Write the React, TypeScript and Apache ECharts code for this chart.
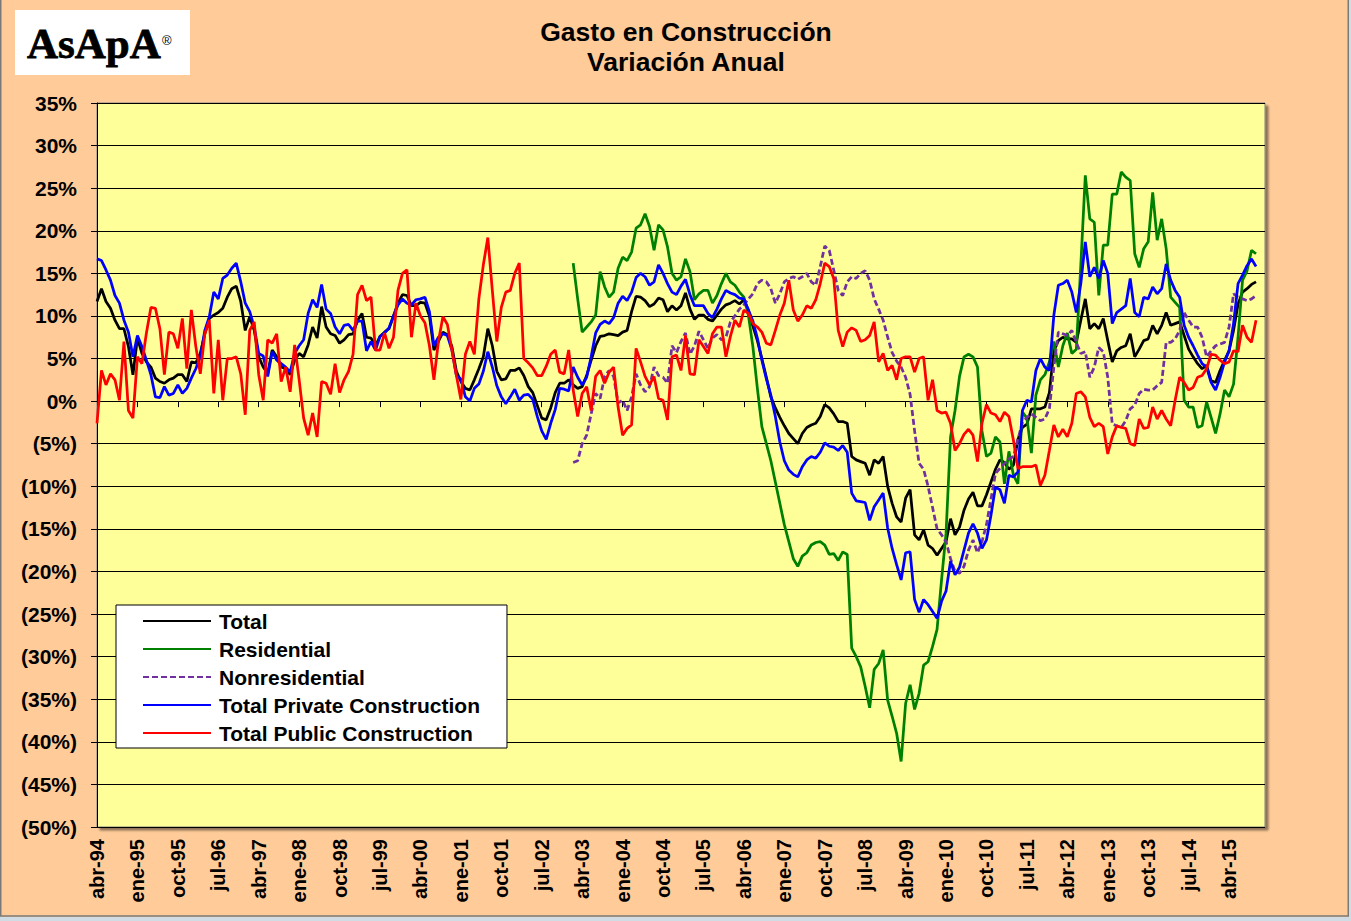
import React, { useEffect, useRef } from "react";
import * as echarts from "echarts";

const FONT = '"Liberation Sans", Arial, Helvetica, sans-serif';

// Category labels: monthly, starting abr-94
const MONTHS = ["ene", "feb", "mar", "abr", "may", "jun", "jul", "ago", "sep", "oct", "nov", "dic"];
const START_MONTH = 3; // abr
const START_YEAR = 94;
const N_CATEGORIES = 261;
const CATEGORIES: string[] = Array.from({ length: N_CATEGORIES }, (_, k) => {
  const m = START_MONTH + k;
  const yy = (START_YEAR + Math.floor(m / 12)) % 100;
  return `${MONTHS[m % 12]}-${String(yy).padStart(2, "0")}`;
});

const Y_MIN = -50;
const Y_MAX = 35;
const Y_STEP = 5;
const LABEL_EVERY = 9;

const SERIES_NAMES = [
  "Total",
  "Residential",
  "Nonresidential",
  "Total Private Construction",
  "Total Public Construction",
];

// Total (abr-94 ...)
const TOTAL = [
  11.7, 13.2, 11.7, 10.9, 9.5, 8.5, 8.5, 6.4, 3.1, 7.4,
  5.6, 4.6, 4.0, 2.7, 2.3, 2.1, 2.5, 2.7, 3.1, 3.1,
  2.3, 4.6, 4.5, 5.6, 7.9, 9.7, 10.1, 10.4, 10.9, 12.2,
  13.2, 13.5, 11.7, 8.3, 9.9, 8.3, 5.2, 4.0, 3.2, 6.0,
  5.2, 4.0, 3.8, 3.1, 4.8, 5.6, 5.2, 6.6, 8.7, 7.4,
  11.1, 8.7, 7.9, 7.7, 6.8, 7.2, 7.8, 7.9, 9.5, 10.3,
  7.5, 7.4, 6.5, 7.6, 8.1, 8.5, 10.0, 11.5, 12.5, 12.4,
  11.2, 11.2, 11.6, 11.5, 10.0, 6.0, 7.0, 8.1, 7.8, 6.4,
  3.5, 2.3, 1.5, 1.3, 2.5, 3.8, 5.2, 8.5, 6.5, 3.5,
  2.5, 2.6, 3.6, 3.6, 3.9, 3.0, 1.7, 1.0, -0.5, -2.0,
  -2.2, -0.8, 1.0, 2.1, 2.1, 2.5, 1.9, 1.5, 1.7, 3.0,
  4.8, 6.5, 7.6, 7.7, 7.9, 7.8, 7.7, 8.1, 8.3, 10.5,
  12.3, 12.2, 11.8, 11.1, 11.4, 12.1, 11.9, 10.5, 11.2, 10.7,
  11.2, 12.7, 10.8, 9.6, 10.1, 10.1, 9.6, 9.4, 10.1, 10.8,
  11.3, 11.5, 11.8, 11.4, 11.9, 10.7, 8.8, 7.1, 5.0, 2.8,
  0.5, -0.8, -1.9, -2.9, -3.8, -4.4, -5.0, -3.8, -3.1, -2.8,
  -2.6, -1.8, -0.4, -0.8, -1.5, -2.4, -2.4, -2.6, -6.5, -6.9,
  -7.1, -7.3, -8.7, -6.9, -7.3, -6.5, -10.0, -12.0, -13.6, -14.2,
  -11.4, -10.4, -15.7, -16.3, -15.1, -16.9, -17.3, -18.1, -17.3, -16.5,
  -13.8, -15.7, -14.8, -12.8, -11.5, -10.7, -12.3, -12.3, -11.0, -9.5,
  -8.0, -6.9, -7.2, -8.0, -7.5, -4.5, -3.1, -2.7, -0.9, -0.9,
  -0.9, -0.7, 1.0, 5.9, 7.1, 7.5, 7.3, 7.3, 6.9, 9.5,
  12.0, 8.5, 9.1, 8.5, 9.7, 7.1, 4.6, 5.9, 6.3, 6.5,
  7.9, 5.2, 6.1, 7.1, 7.3, 8.9, 7.9, 8.9, 10.4, 8.9,
  9.1, 9.3, 7.7, 6.1, 5.2, 4.4, 3.8, 4.2, 2.4, 2.2,
  3.6, 4.8, 5.9, 8.3, 11.4, 12.8, 13.2, 13.7, 14.0,
];

// Total Private Construction (abr-94 ...)
const PRIVATE = [
  16.7, 16.5, 15.4, 14.2, 12.4, 11.5, 9.5, 8.1, 5.2, 7.7,
  6.4, 4.8, 3.1, 0.5, 0.4, 1.7, 0.7, 0.9, 1.9, 0.9,
  1.5, 2.7, 3.8, 5.2, 8.3, 9.9, 12.8, 12.0, 14.4, 14.8,
  15.6, 16.2, 14.0, 11.5, 10.5, 8.7, 5.6, 5.3, 2.9, 5.8,
  4.8, 4.4, 4.0, 3.4, 5.6, 6.5, 7.2, 10.3, 11.9, 11.0,
  13.7, 10.8, 10.3, 8.7, 7.9, 8.9, 9.0, 8.3, 9.4, 9.4,
  5.9, 7.0, 6.0, 7.6, 8.0, 8.6, 10.0, 11.3, 12.0, 11.5,
  11.3, 11.9, 12.0, 12.2, 10.5, 6.5, 7.5, 7.9, 7.7, 6.0,
  3.0, 2.6, 0.5, 0.0, 1.5, 2.0, 3.5, 5.8, 4.0, 1.8,
  0.5, -0.3, 0.5, 1.4, 0.1, 0.7, 0.8, 0.2, -1.8, -3.5,
  -4.5, -2.6, -1.0, 1.5, 1.4, 1.2, 4.0, 2.8, 1.9, 2.8,
  5.2, 8.0, 9.0, 9.4, 9.1, 9.8, 11.5, 12.3, 11.8, 12.8,
  14.5, 15.0, 14.6, 13.6, 14.0, 16.0, 15.0, 13.8, 12.8, 12.5,
  13.5, 14.3, 12.5, 11.2, 11.2, 11.2, 10.3, 9.8, 10.8, 12.0,
  13.0, 12.7, 12.5, 12.1, 12.0, 10.7, 9.4, 7.4, 4.8, 2.6,
  0.7, -1.8, -4.8, -7.0, -8.1, -8.6, -8.9, -7.7, -6.9, -6.5,
  -6.7, -6.0, -4.9, -5.3, -5.4, -5.8, -5.2, -6.0, -10.8, -11.7,
  -11.8, -11.9, -14.0, -12.4, -11.6, -10.8, -14.9, -17.3, -19.2, -21.0,
  -17.8, -17.7, -23.3, -24.8, -23.3, -23.9, -24.7, -25.5, -23.5, -22.3,
  -18.8, -20.4, -19.5, -17.5, -15.5, -14.4, -15.5, -17.3, -16.3, -13.4,
  -10.1, -10.4, -12.0, -8.7, -8.9, -8.3, -1.1, 0.1, -0.1, 3.6,
  5.0, 4.0, 3.6, 10.1, 13.6, 13.8, 14.2, 12.8, 10.4, 13.8,
  18.7, 14.6, 15.7, 14.4, 16.5, 15.0, 9.1, 10.4, 10.8, 11.2,
  14.4, 10.4, 9.9, 12.2, 12.0, 13.4, 12.6, 13.2, 16.1, 14.2,
  13.0, 12.2, 8.9, 7.5, 6.5, 5.4, 4.4, 4.0, 2.2, 1.3,
  2.8, 4.6, 5.9, 9.1, 13.8, 14.8, 15.9, 16.7, 15.8,
];

// Total Public Construction (abr-94 ...)
const PUBLIC = [
  -2.6, 3.6, 1.9, 3.2, 2.5, 0.1, 7.0, -1.1, -2.0, 5.2,
  4.4, 8.0, 11.0, 10.9, 8.5, 3.1, 8.1, 7.9, 6.2, 9.7,
  3.8, 10.7, 6.4, 3.2, 7.9, 9.5, 0.9, 7.2, 0.1, 5.0,
  5.0, 5.2, 3.2, -1.6, 8.3, 9.3, 3.1, 0.1, 7.2, 6.8,
  7.9, 2.3, 4.0, 1.1, 6.6, 2.5, -2.0, -4.0, -1.4, -4.2,
  2.3, 2.1, 0.8, 4.4, 1.0, 2.5, 3.5, 5.5, 12.5, 13.6,
  11.8, 12.2, 6.0, 6.0, 8.0, 6.2, 7.5, 13.0, 15.0, 15.4,
  7.5, 11.5, 10.0, 9.2, 6.5, 2.5, 7.0, 9.9, 9.0, 6.0,
  3.0, 0.2, 5.5, 7.0, 5.5, 12.0, 16.0, 19.2, 13.0, 7.0,
  11.0, 12.8, 13.0, 15.0, 16.2, 5.0, 4.5, 3.9, 3.0, 3.0,
  4.1, 5.5, 6.0, 3.4, 3.2, 6.0, 1.3, -1.8, 0.9, 1.7,
  -1.1, 2.9, 3.6, 2.1, 3.4, 4.0, -0.7, -4.0, -3.2, -2.8,
  6.2, 4.6, 2.9, 1.9, 2.9, 0.3, 0.1, -2.2, 5.2, 5.4,
  3.6, 7.7, 3.2, 3.1, 7.2, 6.4, 5.6, 7.9, 8.7, 8.7,
  5.2, 7.6, 9.5, 8.7, 10.7, 10.3, 9.1, 8.7, 8.1, 6.8,
  6.6, 8.3, 10.1, 11.5, 14.2, 10.7, 9.4, 10.1, 11.2, 10.9,
  11.9, 13.8, 16.2, 15.8, 14.4, 8.3, 6.4, 8.1, 8.6, 8.3,
  7.0, 7.2, 7.7, 9.3, 4.6, 5.6, 3.6, 4.2, 2.5, 5.0,
  5.2, 5.2, 3.4, 5.0, 5.2, 0.1, 2.5, -1.1, -1.4, -1.3,
  -2.6, -5.8, -5.0, -3.9, -3.3, -4.0, -7.1, -2.6, -0.4, -1.4,
  -1.6, -2.4, -1.3, -1.8, -4.6, -7.9, -7.7, -7.7, -7.7, -7.5,
  -9.9, -8.7, -5.8, -2.8, -4.2, -3.3, -4.2, -2.6, 0.9, 1.1,
  0.5, -1.9, -3.0, -2.6, -3.0, -6.2, -4.2, -2.9, -3.1, -3.2,
  -5.0, -5.2, -2.1, -3.2, -3.1, -0.7, -2.1, -1.1, -2.1, -2.9,
  0.1, 2.8, 2.2, 1.3, 1.6, 2.8, 3.0, 3.8, 5.5, 5.4,
  4.8, 4.4, 4.6, 5.9, 5.8, 8.9, 7.5, 6.9, 9.5,
];

// Residential and Nonresidential start at feb-03
const SUBSERIES_START = "feb-03";

const RESIDENTIAL = [
  16.2, 12.0, 8.1, 8.7, 9.3, 10.1, 15.2, 13.4, 12.2, 12.8,
  15.6, 16.9, 16.5, 17.5, 20.3, 20.7, 22.0, 20.5, 17.7, 20.7,
  20.1, 18.1, 15.0, 14.2, 14.6, 16.7, 15.2, 11.9, 12.6, 13.0,
  13.0, 11.5, 12.4, 13.8, 15.0, 14.0, 13.6, 12.8, 12.2, 10.1,
  6.4, 1.5, -3.0, -5.0, -7.0, -9.5, -12.0, -14.5, -16.5, -18.5,
  -19.4, -18.2, -17.8, -16.9, -16.6, -16.5, -16.9, -18.0, -17.9, -18.7,
  -17.7, -18.0, -29.0, -30.0, -31.2, -33.5, -36.0, -31.5, -30.8, -29.2,
  -35.1, -37.0, -39.0, -42.3, -35.5, -33.3, -36.2, -34.3, -31.0, -30.6,
  -28.8, -26.8, -21.0, -15.5, -4.2, -1.1, 2.9, 5.2, 5.5, 5.2,
  4.0, -3.5, -6.5, -6.1, -4.2, -4.8, -9.7, -5.9, -8.7, -9.7,
  -1.3, -2.0, -6.1, 0.7, 2.5, 3.1, 4.6, 7.0, 4.0, 6.5,
  8.0, 5.6, 6.1, 16.0, 26.5, 21.4, 21.0, 12.4, 18.3, 18.3,
  24.3, 24.3, 26.9, 26.3, 25.9, 17.3, 15.7, 17.9, 18.7, 24.5,
  18.9, 21.4, 17.9, 12.2, 11.6, 11.0, 0.1, -0.7, -0.7, -3.1,
  -2.9, -0.1, -1.9, -3.8, -1.5, 1.3, 0.5, 2.0, 7.5, 14.2,
  15.3, 17.7, 17.3,
];

const NONRESIDENTIAL = [
  -7.2, -7.0, -5.0, -4.0, -1.5, 0.9, 0.3, 2.9, 3.6, 2.9,
  -0.2, 0.1, -1.1, 0.5, 3.2, 1.9, 1.1, 1.7, 4.0, 3.0,
  2.8, 2.1, 6.5, 5.7, 7.0, 8.0, 5.5, 6.5, 8.2, 7.2,
  6.2, 7.4, 7.8, 7.2, 7.5, 9.3, 10.0, 10.8, 11.3, 12.0,
  12.6, 13.8, 14.2, 14.0, 13.2, 11.5, 12.6, 14.0, 14.4, 14.6,
  14.3, 14.6, 15.0, 14.0, 13.6, 15.8, 18.2, 17.7, 15.4, 13.0,
  12.4, 14.0, 14.6, 14.4, 15.0, 15.3, 14.2, 12.0, 10.8, 9.5,
  7.5, 5.7, 4.7, 4.0, 2.8, 0.8, -3.5, -7.3, -8.0, -10.0,
  -12.5, -15.0, -15.7, -16.5, -18.5, -20.0, -20.2, -19.4, -17.5, -16.3,
  -17.8, -16.5, -14.5, -11.5, -8.5, -7.9, -7.3, -6.8, -6.5, -4.5,
  -2.5, -1.9, -1.5, -1.9, -2.3, -2.1, -0.9, 4.0, 8.1, 7.9,
  7.7, 8.3, 6.9, 5.6, 5.8, 2.8, 4.0, 6.3, 5.8, 2.8,
  -2.7, -2.9, -3.1, -2.3, -0.9, -0.5, 0.9, 1.4, 1.3, 1.3,
  1.8, 2.2, 6.9, 6.9, 7.3, 8.3, 10.4, 9.5, 8.7, 8.7,
  7.5, 5.2, 5.9, 6.5, 6.7, 6.9, 8.7, 12.6, 12.2, 12.0,
  11.8, 12.0, 12.4,
];

const COLORS = ["#000000", "#008000", "#7030A0", "#0000FF", "#FF0000"];

function fmtPct(v: number): string {
  return v < 0 ? `(${-v}%)` : `${v}%`;
}

export default function App() {
  const ref = useRef<HTMLDivElement>(null);

  useEffect(() => {
    if (!ref.current) return;
    const chart = echarts.init(ref.current, null, { renderer: "svg" });
    const subStart = CATEGORIES.indexOf(SUBSERIES_START);
    const lead = (arr: number[], start: number) =>
      (new Array(start).fill(null) as (number | null)[]).concat(arr);

    const seriesData: (number | null)[][] = [
      TOTAL,
      lead(RESIDENTIAL, subStart),
      lead(NONRESIDENTIAL, subStart),
      PRIVATE,
      PUBLIC,
    ];

    const option: any = {
      animation: false,
      backgroundColor: "#FFCC99",
      textStyle: { fontFamily: FONT },
      title: {
        text: "Gasto en Construcción\nVariación Anual",
        left: 681,
        top: 12,
        textAlign: "center",
        textStyle: {
          fontFamily: FONT,
          fontSize: 26.5,
          fontWeight: "bold",
          color: "#000",
          lineHeight: 30,
        },
      },
      graphic: [
        {
          type: "rect",
          silent: true,
          z: 100,
          shape: { x: 0.75, y: -3, width: 1347.5, height: 919 },
          style: { fill: null, stroke: "#7a7a7a", lineWidth: 1.5 },
        },
        {
          type: "rect",
          silent: true,
          shape: { x: 15, y: 10, width: 175, height: 65 },
          style: { fill: "#ffffff" },
        },
        {
          type: "text",
          silent: true,
          x: 27,
          y: 43,
          style: {
            text: "AsApA",
            fontFamily: '"Liberation Serif", "DejaVu Serif", serif',
            fontSize: 43,
            fontWeight: "bold",
            fill: "#000",
            stroke: "#000",
            lineWidth: 0.8,
            verticalAlign: "middle",
            textVerticalAlign: "middle",
          },
        },
        {
          type: "text",
          silent: true,
          x: 162,
          y: 40,
          style: {
            text: "®",
            fontFamily: FONT,
            fontSize: 13,
            fill: "#000",
            verticalAlign: "middle",
            textVerticalAlign: "middle",
          },
        },
      ],
      legend: {
        orient: "vertical",
        left: 116,
        top: 605,
        data: SERIES_NAMES,
        selectedMode: false,
        backgroundColor: "#ffffff",
        borderColor: "#000000",
        borderWidth: 1,
        padding: [2, 27, 1, 26],
        itemWidth: 68,
        itemHeight: 14,
        itemGap: 0,
        itemStyle: { opacity: 0, borderWidth: 0 },
        textStyle: {
          fontFamily: FONT,
          fontSize: 21,
          fontWeight: "bold",
          color: "#000",
          lineHeight: 28,
          padding: [0, 0, 0, 3],
        },
      },
      grid: {
        left: 97,
        top: 103,
        right: 84,
        bottom: 90,
        show: true,
        backgroundColor: "#FFFF99",
        borderColor: "#808080",
        borderWidth: 1,
        shadowColor: "rgba(0,0,0,0.45)",
        shadowBlur: 2,
        shadowOffsetX: 3,
        shadowOffsetY: 3,
      },
      xAxis: [
        {
          type: "category",
          data: CATEGORIES,
          boundaryGap: false,
          position: "bottom",
          axisLine: { show: false, onZero: false },
          axisTick: { show: false },
          splitLine: { show: false },
          axisLabel: {
            interval: LABEL_EVERY - 1,
            rotate: 90,
            margin: 12,
            fontFamily: FONT,
            fontSize: 20,
            fontWeight: "bold",
            color: "#000",
          },
        },
        {
          type: "category",
          data: CATEGORIES,
          boundaryGap: false,
          position: "bottom",
          axisLine: { show: true, onZero: true, lineStyle: { color: "#000", width: 1 } },
          axisTick: { show: true, interval: LABEL_EVERY - 1, length: 6, lineStyle: { color: "#000", width: 1 } },
          axisLabel: { show: false },
          splitLine: { show: false },
        },
      ],
      yAxis: {
        type: "value",
        min: Y_MIN,
        max: Y_MAX,
        interval: Y_STEP,
        axisLine: { show: true, lineStyle: { color: "#000", width: 1 } },
        axisTick: { show: true, length: 6, lineStyle: { color: "#000" } },
        splitLine: { show: true, lineStyle: { color: "#000", width: 1 } },
        axisLabel: {
          formatter: fmtPct,
          margin: 20,
          fontFamily: FONT,
          fontSize: 21,
          fontWeight: "bold",
          color: "#000",
        },
      },
      series: SERIES_NAMES.map((name, i) => ({
        name,
        type: "line",
        xAxisIndex: 0,
        data: seriesData[i],
        symbol: "none",
        showSymbol: false,
        connectNulls: false,
        color: COLORS[i],
        lineStyle: {
          color: COLORS[i],
          width: 2.75,
          type: i === 2 ? [6, 3] : "solid",
        },
        emphasis: { disabled: true },
        z: 2 + i,
      })),
    };

    chart.setOption(option);
    return () => chart.dispose();
  }, []);

  return (
    <div
      style={{
        position: "fixed",
        left: 0,
        top: 0,
        width: 1351,
        height: 921,
        background: "#CFDCE4",
      }}
    >
      <div ref={ref} style={{ position: "absolute", left: 0, top: 0, width: 1349, height: 917 }} />
    </div>
  );
}
